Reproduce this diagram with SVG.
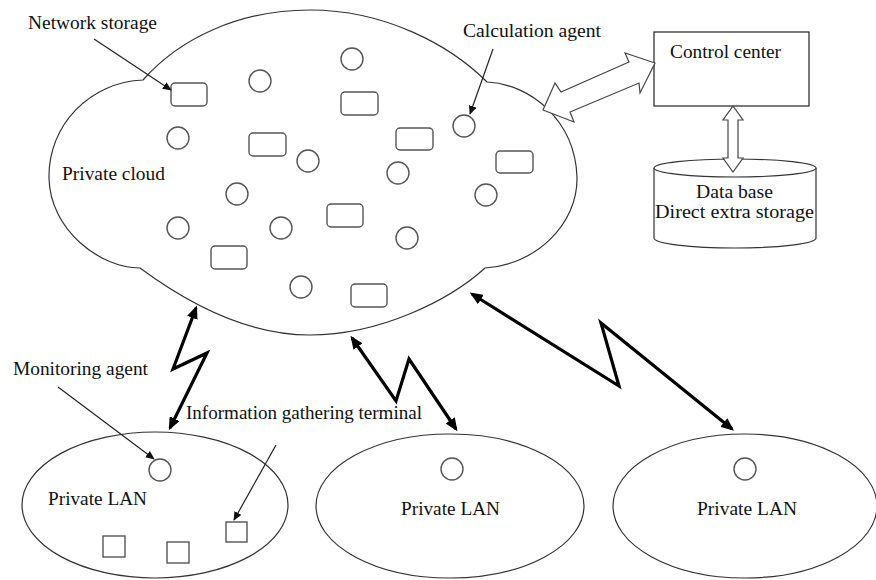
<svg xmlns="http://www.w3.org/2000/svg" width="876" height="580" viewBox="0 0 876 580">
<defs>
<style>
.lbl{font-family:"Liberation Serif","Times New Roman",serif;font-size:19px;fill:#111;}
.outline{fill:#fff;stroke:#333;stroke-width:1.2;}
.item{fill:none;stroke:#555;stroke-width:1.4;}
.thin{fill:none;stroke:#222;stroke-width:1.2;}
.bolt{fill:none;stroke:#000;stroke-width:3.2;stroke-linejoin:miter;}
.block{fill:#fff;stroke:#444;stroke-width:1.2;stroke-linejoin:miter;}
</style>
<marker id="ah" viewBox="0 0 10 10" refX="9" refY="5" markerUnits="userSpaceOnUse" markerWidth="9" markerHeight="8" orient="auto" preserveAspectRatio="none">
<path d="M0,0 L10,5 L0,10 z" fill="#111"/>
</marker>
<marker id="bh" viewBox="0 0 10 10" refX="8" refY="5" markerUnits="userSpaceOnUse" markerWidth="13" markerHeight="11" orient="auto-start-reverse" preserveAspectRatio="none">
<path d="M0,0 L10,5 L0,10 z" fill="#000"/>
</marker>
</defs>
<rect width="876" height="580" fill="#fff"/>

<g id="private-cloud">
<path class="outline" d="M143,80 C180,38 240,10 310,10 C385,10 450,45 487,82 C530,84 575,120 577,177 C578,225 535,265 485,268 C450,300 380,335 310,335 C250,335 190,305 140,268 C100,268 50,230 49,178 C48,125 90,82 143,80 Z"/>
<g class="item">
<circle cx="260" cy="81" r="11"/>
<circle cx="352" cy="59" r="11"/>
<circle cx="178" cy="138" r="11"/>
<circle cx="308" cy="161" r="11"/>
<circle cx="398" cy="173" r="11"/>
<circle cx="464" cy="126" r="11"/>
<circle cx="486" cy="195" r="11"/>
<circle cx="237" cy="194" r="11"/>
<circle cx="178" cy="228" r="11"/>
<circle cx="281" cy="228" r="11"/>
<circle cx="407" cy="238" r="11"/>
<circle cx="301" cy="287" r="11"/>
<rect x="171" y="83" width="36" height="23" rx="4"/>
<rect x="341" y="92" width="37" height="23" rx="4"/>
<rect x="249" y="133" width="37" height="23" rx="4"/>
<rect x="396" y="128" width="37" height="22" rx="4"/>
<rect x="496" y="151" width="37" height="22" rx="4"/>
<rect x="327" y="204" width="36" height="23" rx="4"/>
<rect x="211" y="246" width="36" height="23" rx="4"/>
<rect x="351" y="284" width="36" height="23" rx="4"/>
</g>
<text class="lbl" x="62" y="180" textLength="103" lengthAdjust="spacingAndGlyphs">Private cloud</text>
</g>

<g id="control-center">
<rect x="654" y="32" width="155" height="74" fill="#fff" stroke="#222" stroke-width="1.2"/>
<text class="lbl" x="670" y="58" textLength="111" lengthAdjust="spacingAndGlyphs">Control center</text>
</g>

<g id="database">
<path class="outline" d="M654,168 L654,238 A81,10 0 0 0 816,238 L816,168"/>
<ellipse class="outline" cx="735" cy="168" rx="81" ry="9"/>
<text class="lbl" x="696" y="198" textLength="77" lengthAdjust="spacingAndGlyphs">Data base</text>
<text class="lbl" x="655" y="218" textLength="159" lengthAdjust="spacingAndGlyphs">Direct extra storage</text>
</g>

<g id="lan-1">
<ellipse class="outline" cx="155" cy="505" rx="133" ry="73"/>
<circle class="item" cx="160" cy="470" r="11"/>
<rect class="item" x="103" y="536" width="22" height="21"/>
<rect class="item" x="167" y="542" width="22" height="21"/>
<rect class="item" x="226" y="522" width="21" height="20"/>
<text class="lbl" x="48" y="505" textLength="99" lengthAdjust="spacingAndGlyphs">Private LAN</text>
</g>

<g id="lan-2">
<ellipse class="outline" cx="450" cy="506" rx="134" ry="72"/>
<circle class="item" cx="452" cy="469" r="11"/>
<text class="lbl" x="401" y="515" textLength="99" lengthAdjust="spacingAndGlyphs">Private LAN</text>
</g>

<g id="lan-3">
<ellipse class="outline" cx="745" cy="506" rx="132" ry="72"/>
<circle class="item" cx="745" cy="469" r="11"/>
<text class="lbl" x="697" y="515" textLength="100" lengthAdjust="spacingAndGlyphs">Private LAN</text>
</g>

<g id="annotations">
<text class="lbl" x="28" y="29" textLength="129" lengthAdjust="spacingAndGlyphs">Network storage</text>
<text class="lbl" x="463" y="37" textLength="138" lengthAdjust="spacingAndGlyphs">Calculation agent</text>
<text class="lbl" x="13" y="375" textLength="135" lengthAdjust="spacingAndGlyphs">Monitoring agent</text>
<text class="lbl" x="186" y="419" textLength="236" lengthAdjust="spacingAndGlyphs">Information gathering terminal</text>
</g>

<g id="connectors">
<line class="thin" x1="94" y1="39" x2="171" y2="90" marker-end="url(#ah)"/>
<line class="thin" x1="493" y1="49" x2="470" y2="114" marker-end="url(#ah)"/>
<line class="thin" x1="58" y1="387" x2="154" y2="459" marker-end="url(#ah)"/>
<line class="thin" x1="276" y1="445" x2="234" y2="520" marker-end="url(#ah)"/>
<polygon class="block" points="543,110 555,83 561,92 629,62 625,53 655,63 640,93 639,83 570,112 574,122"/>
<polygon class="block" points="733,106 743,120 738,120 738,158 743,158 733,172 723,158 728,158 728,120 723,120"/>
<polyline class="bolt" points="196,308 173,369 207,353 170,428" marker-start="url(#bh)" marker-end="url(#bh)"/>
<polyline class="bolt" points="352,338 396,401 409,359 456,429" marker-start="url(#bh)" marker-end="url(#bh)"/>
<polyline class="bolt" points="472,294 619,386 601,323 732,429" marker-start="url(#bh)" marker-end="url(#bh)"/>
</g>
</svg>
